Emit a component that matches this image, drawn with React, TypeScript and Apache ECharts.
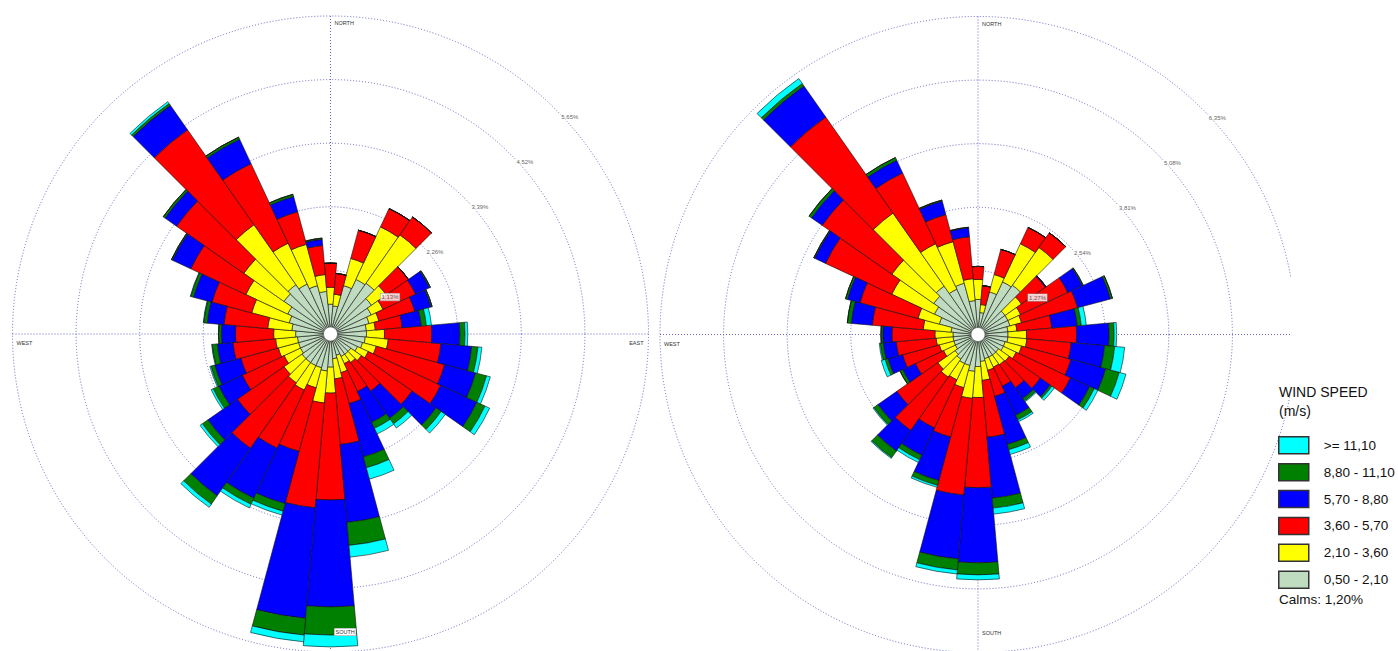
import React, { useEffect, useRef } from 'react';
import * as echarts from 'echarts';

// Wind directions (degrees, sector centres)
const directions = ['0', '10', '20', '30', '40', '50', '60', '70', '80', '90', '100', '110', '120', '130', '140', '150', '160', '170',
  '180', '190', '200', '210', '220', '230', '240', '250', '260', '270', '280', '290', '300', '310', '320', '330', '340', '350'];

// Speed classes, innermost first
const speedClasses = ['0,50 - 2,10', '2,10 - 3,60', '3,60 - 5,70', '5,70 - 8,80', '8,80 - 11,10', '>= 11,10'];
const classColors = ['#c0dcc0', '#ffff00', '#ff0000', '#0000ff', '#008000', '#00ffff'];

// Left rose frequencies (%), per class, by direction
const leftC1 = [0.53, 0.50, 0.89, 1.07, 1.10, 0.89, 0.80, 0.71, 0.64, 0.64, 0.62, 0.59, 0.53, 0.44, 0.44, 0.44, 0.39, 0.44, 0.59, 0.66, 0.62, 0.62, 0.62, 0.62, 0.59, 0.59, 0.59, 0.62, 0.69, 0.76, 0.84, 1.01, 1.07, 0.98, 0.89, 0.76];
const leftC2 = [0.30, 0.21, 0.50, 1.03, 1.05, 0.32, 0.23, 0.18, 0.16, 0.32, 0.41, 0.25, 0.21, 0.23, 0.18, 0.14, 0.32, 0.36, 0.46, 0.57, 0.37, 0.48, 0.44, 0.39, 0.32, 0.37, 0.39, 0.39, 0.43, 0.69, 0.82, 0.87, 1.30, 0.80, 0.76, 0.30];
const leftC3 = [0.43, 0.37, 0.52, 0.36, 0.39, 0.48, 0.64, 0.66, 0.48, 0.84, 0.94, 1.26, 1.42, 1.10, 0.62, 0.55, 0.57, 1.17, 1.90, 1.87, 1.17, 1.14, 1.42, 1.01, 0.82, 0.69, 0.76, 0.68, 0.78, 0.73, 1.08, 1.46, 2.06, 1.56, 0.60, 0.52];
const leftC4 = [0, 0, 0, 0, 0, 0, 0.27, 0.30, 0.34, 0.50, 0.55, 0.57, 0.71, 0.52, 0.59, 0.60, 0.98, 1.39, 1.90, 1.97, 0.96, 0.98, 1.03, 0.64, 0.46, 0.48, 0.28, 0.25, 0.30, 0.34, 0.36, 0.25, 0.53, 0.48, 0.28, 0.11];
const leftC5 = [0, 0, 0, 0, 0, 0, 0.02, 0.02, 0.09, 0.09, 0.11, 0.20, 0.16, 0.11, 0.12, 0.12, 0.20, 0.41, 0.50, 0.30, 0.14, 0.12, 0.18, 0.12, 0.11, 0.07, 0.09, 0.05, 0.06, 0.05, 0.02, 0.04, 0.04, 0.04, 0.04, 0.02];
const leftC6 = [0, 0, 0, 0, 0, 0, 0, 0, 0.09, 0.05, 0.07, 0.07, 0.09, 0.09, 0.09, 0.11, 0.21, 0.21, 0.21, 0.12, 0.07, 0.07, 0.07, 0.05, 0.04, 0.02, 0.01, 0, 0.01, 0.01, 0, 0, 0.04, 0, 0, 0];

// Right rose frequencies (%), per class, by direction
const rightC1 = [0.70, 0.44, 0.88, 1.16, 1.20, 0.66, 0.66, 0.66, 0.60, 0.60, 0.60, 0.56, 0.56, 0.50, 0.50, 0.50, 0.50, 0.54, 0.64, 0.74, 0.64, 0.64, 0.60, 0.56, 0.50, 0.50, 0.50, 0.50, 0.54, 0.80, 0.96, 1.08, 1.18, 1.00, 1.06, 0.68];
const rightC2 = [0.40, 0.16, 0.36, 0.84, 0.92, 0.40, 0.28, 0.24, 0.18, 0.37, 0.38, 0.34, 0.28, 0.26, 0.24, 0.22, 0.24, 0.38, 0.62, 0.54, 0.46, 0.36, 0.44, 0.42, 0.26, 0.30, 0.34, 0.36, 0.56, 0.44, 0.94, 1.02, 1.78, 1.00, 0.86, 0.44];
const rightC3 = [0.26, 0.38, 0.52, 0.36, 0.36, 0.58, 1.04, 1.16, 0.70, 1.00, 0.89, 1.02, 1.20, 0.76, 0.56, 0.42, 0.54, 1.14, 1.80, 1.94, 1.02, 1.06, 1.30, 1.00, 0.62, 0.76, 0.80, 0.86, 1.02, 1.20, 1.46, 1.70, 2.34, 1.56, 0.56, 0.84];
const rightC4 = [0, 0, 0, 0, 0, 0.02, 0.32, 0.68, 0.51, 0.65, 0.67, 0.72, 0.42, 0.24, 0.26, 0.64, 0.99, 1.22, 1.50, 1.28, 0.90, 0.60, 0.50, 0.46, 0.28, 0.30, 0.26, 0.18, 0.42, 0.26, 0.24, 0.26, 0.76, 0.28, 0.28, 0.18];
const rightC5 = [0, 0, 0, 0, 0, 0, 0.02, 0.04, 0.08, 0.10, 0.20, 0.28, 0.10, 0.04, 0.06, 0.10, 0.11, 0.20, 0.24, 0.22, 0.10, 0.10, 0.16, 0.10, 0.06, 0.06, 0.06, 0.04, 0.08, 0.04, 0.02, 0.06, 0.06, 0.06, 0.02, 0.01];
const rightC6 = [0, 0, 0, 0, 0, 0, 0, 0, 0.10, 0.05, 0.20, 0.14, 0.08, 0.06, 0.02, 0.04, 0.10, 0.12, 0.10, 0.08, 0.04, 0.06, 0.02, 0.02, 0, 0.08, 0.02, 0, 0, 0, 0, 0, 0.12, 0, 0, 0];

// Ring (radius axis) ticks
const leftRings = [1.13, 2.26, 3.39, 4.52, 5.65];
const rightRings = [1.27, 2.54, 3.81, 5.08, 6.35];
const leftRingLabels = ['1,13%', '2,26%', '3,39%', '4,52%', '5,65%'];
const rightRingLabels = ['1,27%', '2,54%', '3,81%', '5,08%', '6,35%'];

const compassLabels = ['NORTH', 'EAST', 'SOUTH', 'WEST'];
const legendTitle = 'WIND SPEED\n(m/s)';
const calmsText = 'Calms: 1,20%';

const FONT = '"Liberation Sans", Arial, sans-serif';
const GRID = '#6666c4';
const R = 318;

const roses = [
  { center: [330.5, 334], rings: leftRings, ringLabels: leftRingLabels, data: [leftC1, leftC2, leftC3, leftC4, leftC5, leftC6], southBox: true, showEast: true },
  { center: [978, 334.5], rings: rightRings, ringLabels: rightRingLabels, data: [rightC1, rightC2, rightC3, rightC4, rightC5, rightC6], southBox: false, showEast: false },
];

function buildOption() {
  const polar: any[] = [];
  const angleAxis: any[] = [];
  const radiusAxis: any[] = [];
  const series: any[] = [];
  const graphic: any[] = [];

  // bar polars 0,1
  roses.forEach((rose, ri) => {
    polar.push({ center: rose.center, radius: R });
    angleAxis.push({
      polarIndex: ri, type: 'category', data: directions, startAngle: 95, clockwise: true,
      axisLine: { show: false }, axisTick: { show: false }, axisLabel: { show: false }, splitLine: { show: false },
    });
    const max = rose.rings[rose.rings.length - 1];
    radiusAxis.push({
      polarIndex: ri, type: 'value', min: 0, max,
      axisLine: { show: false }, axisTick: { show: false }, axisLabel: { show: false }, splitLine: { show: false },
    });
    speedClasses.forEach((name, ci) => {
      series.push({
        type: 'bar', coordinateSystem: 'polar', polarIndex: ri, name, stack: 'rose' + ri,
        data: rose.data[ci], barCategoryGap: '0%', silent: true, z: 2,
        itemStyle: { color: classColors[ci], borderColor: '#111', borderWidth: 0.6 },
      });
    });
  });

  // overlay polars 2,3 (rings, cross lines, ring labels)
  roses.forEach((rose, ri) => {
    const pi = ri + 2;
    const max = rose.rings[rose.rings.length - 1];
    polar.push({ center: rose.center, radius: R });
    angleAxis.push({
      polarIndex: pi, type: 'value', min: 0, max: 360, interval: 90, startAngle: 90, clockwise: true,
      axisLine: { show: false }, axisTick: { show: false }, axisLabel: { show: false },
      splitLine: { show: true, lineStyle: { color: GRID, type: [1, 2], width: 1 } },
    });
    radiusAxis.push({
      polarIndex: pi, type: 'value', min: 0, max, interval: rose.rings[0],
      axisLine: { show: false }, axisTick: { show: false }, axisLabel: { show: false },
      splitLine: { show: true, lineStyle: { color: GRID, type: [1, 2], width: 1 } },
    });
    series.push({
      type: 'scatter', coordinateSystem: 'polar', polarIndex: pi, symbolSize: 0, silent: true, z: 6,
      data: rose.rings.map((v, i) => ({
        value: [v, 45],
        label: i === 0 ? { borderColor: '#999', borderWidth: 0.6 } : {},
      })),
      label: {
        show: true, position: 'right', distance: 5, offset: [0, 8],
        formatter: (p: any) => rose.ringLabels[p.dataIndex],
        fontSize: 6, color: '#333', fontFamily: FONT, backgroundColor: '#fff', padding: [1, 1, 0, 1],
      },
    });

    const [cx, cy] = rose.center;
    const t = (text: string, x: number, y: number, align: string, extra: any = {}) => ({
      type: 'text', x, y, z: 20, silent: true,
      style: { text, fontSize: 5.5, fill: '#333', fontFamily: FONT, align, verticalAlign: 'middle', ...extra },
    });
    graphic.push(t(compassLabels[0], cx + 4, cy - R + 7, 'left'));
    if (rose.showEast) graphic.push(t(compassLabels[1], cx + R - 5, cy + 9, 'right'));
    graphic.push(t(compassLabels[2], cx + 4, cy + R - 20, 'left',
      rose.southBox ? { backgroundColor: '#fff', borderColor: '#888', borderWidth: 0.5, padding: [1, 1, 0, 1] } : {}));
    graphic.push(t(compassLabels[3], cx - R + 4, cy + 9, 'left'));
    graphic.push({
      type: 'circle', z: 20, silent: true,
      shape: { cx, cy, r: 7 }, style: { fill: '#fff', stroke: '#555', lineWidth: 0.6 },
    });
  });

  // white panel behind legend (clips the right rose)
  graphic.push({ type: 'rect', z: 3, silent: true, shape: { x: 1290, y: 278, width: 108, height: 373 }, style: { fill: '#fff' } });

  return {
    animation: false,
    backgroundColor: '#fff',
    polar, angleAxis, radiusAxis, series, graphic,
    title: [
      { text: legendTitle, left: 1279, top: 382, padding: 0, textStyle: { fontSize: 14, fontWeight: 'normal', fontFamily: FONT, color: '#111', lineHeight: 19 } },
      { text: calmsText, left: 1279, top: 592, padding: 0, textStyle: { fontSize: 13.5, fontWeight: 'normal', fontFamily: FONT, color: '#111' } },
    ],
    legend: {
      orient: 'vertical', left: 1278, top: 436, padding: 0, itemWidth: 30, itemHeight: 17, itemGap: 8.4,
      icon: 'rect', selectedMode: false,
      data: [...speedClasses].reverse(),
      itemStyle: { borderColor: '#333', borderWidth: 1.5 },
      textStyle: { fontSize: 13.5, fontFamily: FONT, color: '#111', padding: [0, 0, 0, 10] },
    },
  };
}

export default function App() {
  const ref = useRef<HTMLDivElement>(null);
  useEffect(() => {
    if (!ref.current) return;
    const chart = echarts.init(ref.current, null, { renderer: 'svg' });
    chart.setOption(buildOption() as any);
    return () => chart.dispose();
  }, []);
  return (
    <div
      ref={ref}
      style={{ position: 'fixed', left: 0, top: 0, width: 1398, height: 651, background: '#fff' }}
    />
  );
}
